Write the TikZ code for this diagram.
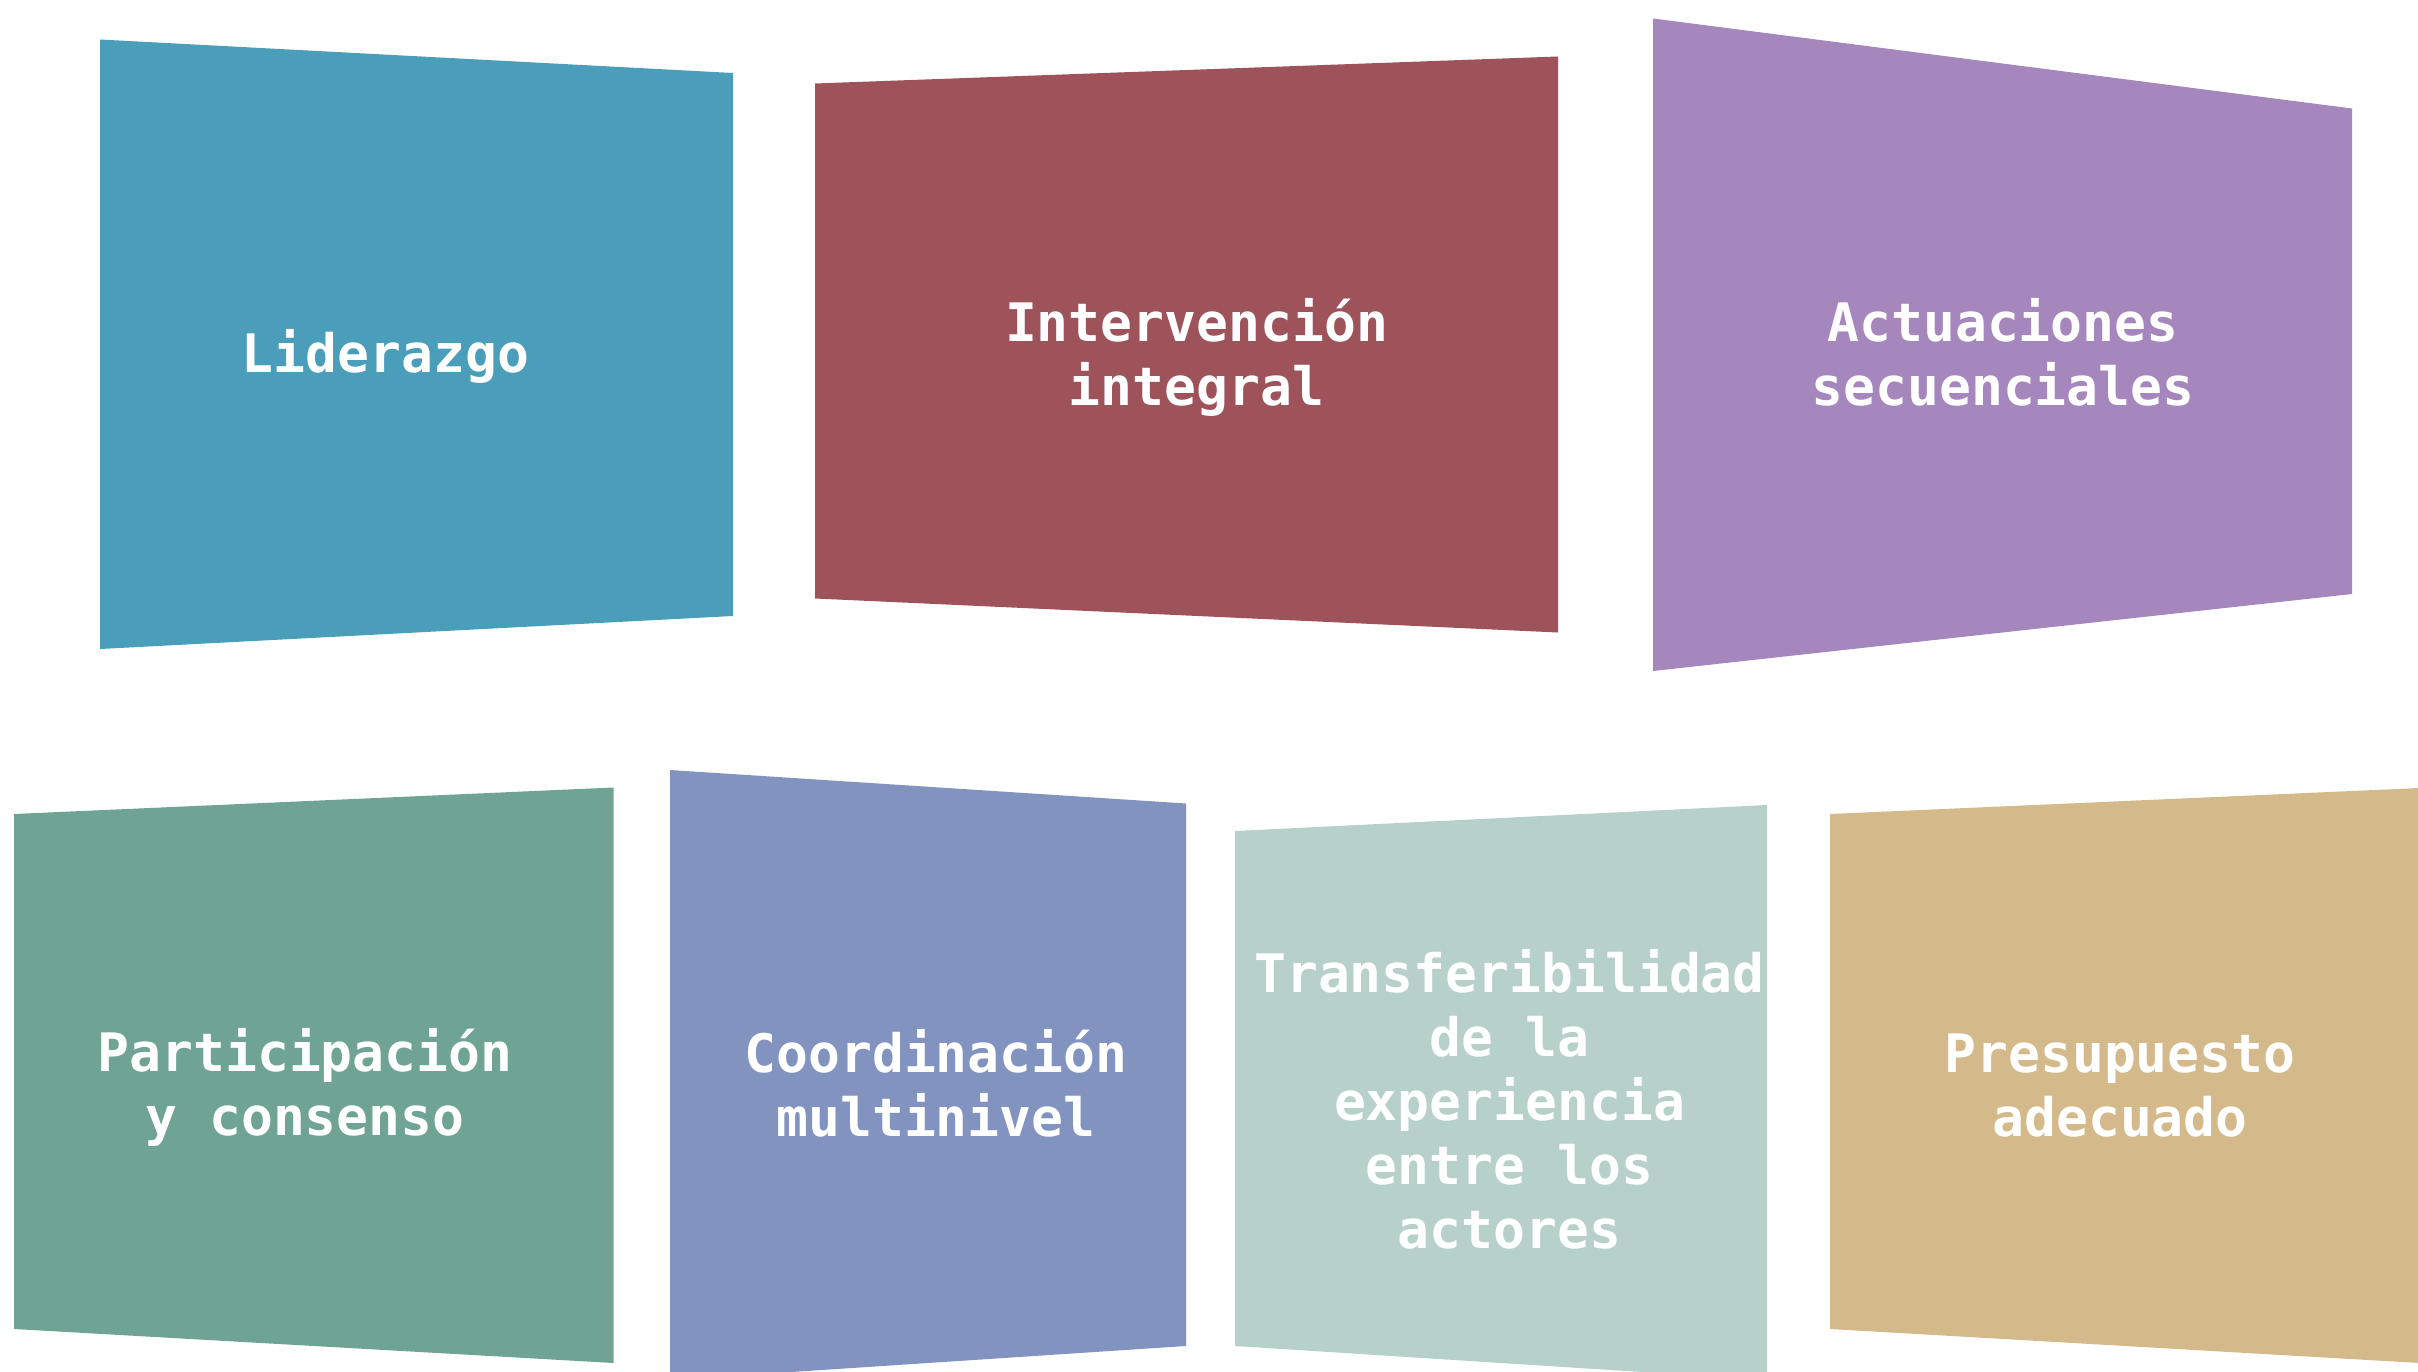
\documentclass[tikz,border=0pt]{standalone}
\usepackage{fontspec}
\newfontfamily\monob{DejaVu Sans Mono}[BoldFont={DejaVu Sans Mono Bold}]
\definecolor{cA}{HTML}{4A9EB9}
\definecolor{cB}{HTML}{9E535B}
\definecolor{cC}{HTML}{A586BD}
\definecolor{cD}{HTML}{6FA394}
\definecolor{cE}{HTML}{8393C0}
\definecolor{cF}{HTML}{B7D1CA}
\definecolor{cG}{HTML}{D4BA8A}
\tikzset{
  panel/.style={draw=none},
  lbl/.style={text=white, align=center, inner sep=0pt,
    font=\monob\bfseries\fontsize{53}{64}\selectfont}
}
\begin{document}
\begin{tikzpicture}[x=1pt,y=-1pt]
\useasboundingbox (0,0) rectangle (2418,1372);
% top row
\fill[panel,cA] (100,39.5) -- (733,73) -- (733,616) -- (100,649) -- cycle;
\fill[panel,cB] (815,83.5) -- (1558,56.5) -- (1558,632.5) -- (815,598.5) -- cycle;
\fill[panel,cC] (1653,18.5) -- (2352,108.5) -- (2352,594) -- (1653,671) -- cycle;
% bottom row
\fill[panel,cD] (14,814) -- (613.5,787.5) -- (613.5,1363) -- (14,1329) -- cycle;
\fill[panel,cE] (670,770) -- (1186,803.5) -- (1186,1346) -- (670,1380) -- cycle;
\fill[panel,cF] (1235,831) -- (1767,805) -- (1767,1380) -- (1235,1346) -- cycle;
\fill[panel,cG] (1830,814) -- (2420,788) -- (2420,1363) -- (1830,1329) -- cycle;
% labels
\node[lbl] (t1) at (385.5,356.5) {Liderazgo};
\node[lbl] (t2) at (1196.5,357) {Intervención\\integral};
\node[lbl] (t3) at (2003,352.5) {Actuaciones\\secuenciales};
\node[lbl] (t4) at (305,1087.5) {Participación\\y consenso};
\node[lbl] (t5) at (936,1083) {Coordinación\\multinivel};
\node[lbl] (t6) at (1509.5,1099) {Transferibilidad\\de la\\experiencia\\entre los\\actores};
\node[lbl] (t7) at (2120,1086) {Presupuesto\\adecuado};
\end{tikzpicture}
\end{document}
